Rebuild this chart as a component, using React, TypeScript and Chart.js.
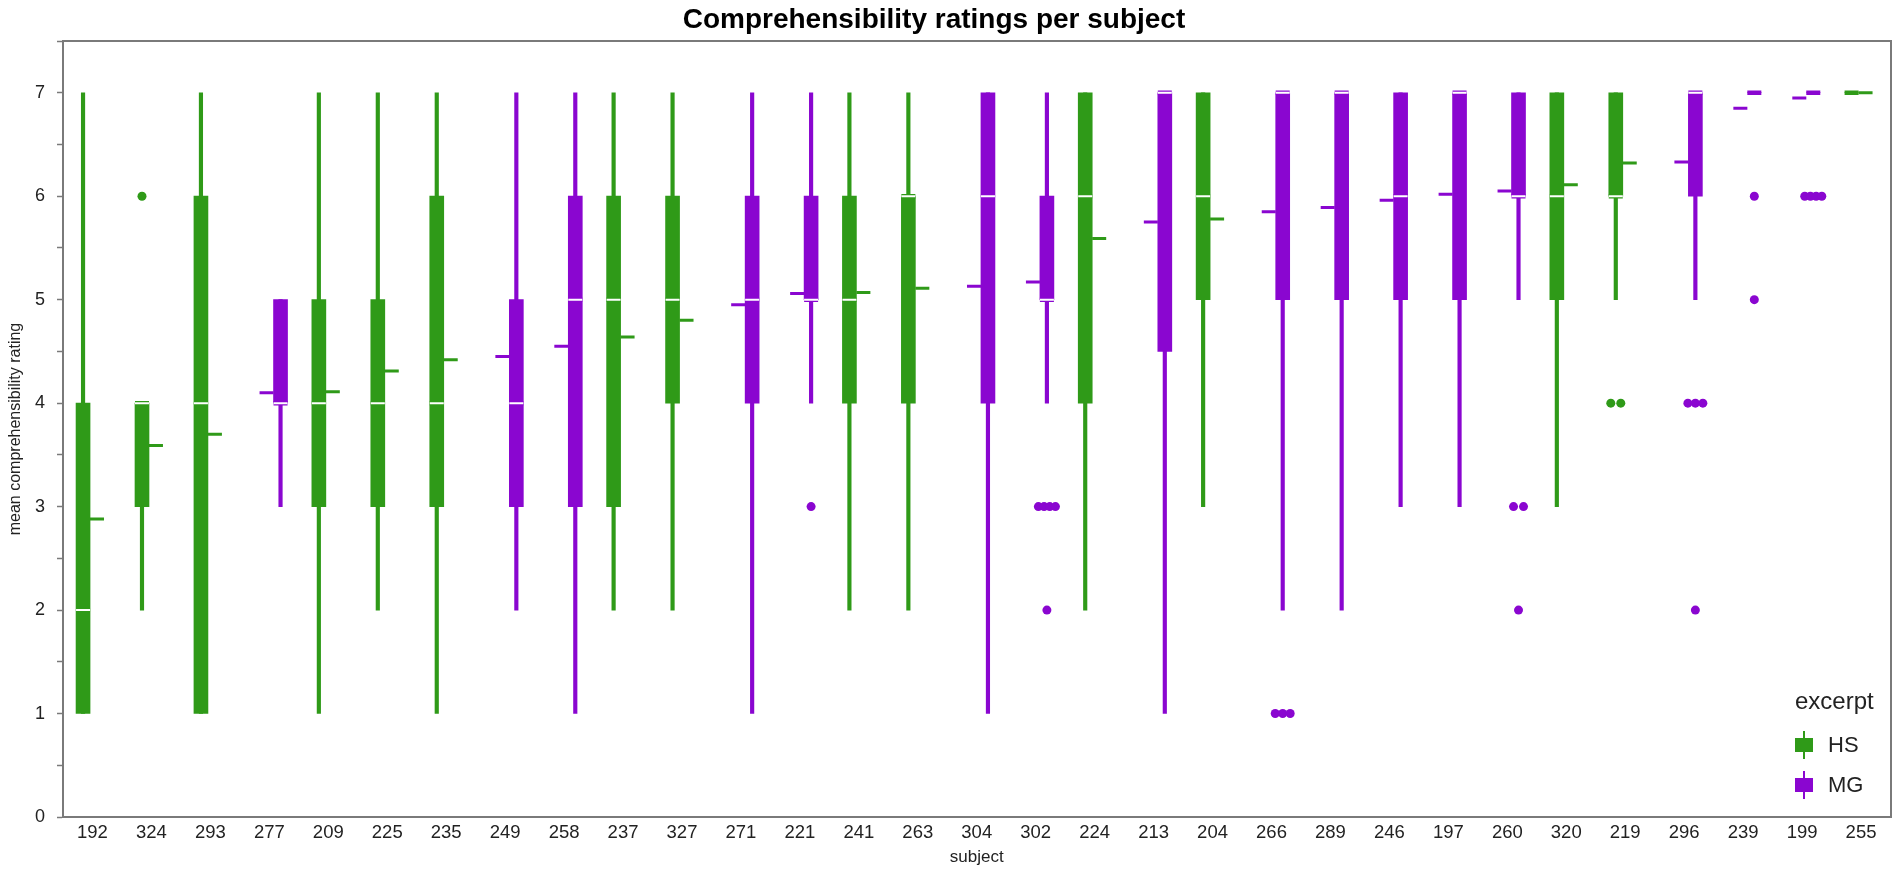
import { useEffect, useRef } from "react";
import { Chart, registerables } from "chart.js";

Chart.register(...registerables);

// box-plot summaries, one entry per subject
const subjects = [
  "192", "324", "293", "277", "209", "225", "235", "249", "258", "237", "327",
  "271", "221", "241", "263", "304", "302", "224", "213", "204", "266", "289",
  "246", "197", "260", "320", "219", "296", "239", "199", "255",
];
const excerpt = [
  "HS", "HS", "HS", "MG", "HS", "HS", "HS", "MG", "MG", "HS", "HS",
  "MG", "MG", "HS", "HS", "MG", "MG", "HS", "MG", "HS", "MG", "MG",
  "MG", "MG", "MG", "HS", "HS", "MG", "MG", "MG", "HS",
];
const whiskerLow = [1, 2, 1, 3, 1, 2, 1, 2, 1, 2, 2, 1, 4, 2, 2, 1, 4, 2, 1, 3, 2, 2, 3, 3, 5, 3, 5, 5, 7, 7, 7];
const q1 = [1, 3, 1, 4, 3, 3, 3, 3, 3, 3, 4, 4, 5, 4, 4, 4, 5, 4, 4.5, 5, 5, 5, 5, 5, 6, 5, 6, 6, 7, 7, 7];
const median = [2, 4, 4, 4, 4, 4, 4, 4, 5, 5, 5, 5, 5, 5, 6, 6, 5, 6, 7, 6, 7, 7, 6, 7, 6, 6, 6, 7, 7, 7, 7];
const q3 = [4, 4, 6, 5, 5, 5, 6, 5, 6, 6, 6, 6, 6, 6, 6, 7, 6, 7, 7, 7, 7, 7, 7, 7, 7, 7, 7, 7, 7, 7, 7];
const whiskerHigh = [7, 4, 7, 5, 7, 7, 7, 7, 7, 7, 7, 7, 7, 7, 7, 7, 7, 7, 7, 7, 7, 7, 7, 7, 7, 7, 7, 7, 7, 7, 7];
const means = [
  2.88, 3.59, 3.7, 4.1, 4.11, 4.31, 4.42, 4.45, 4.55, 4.64, 4.8,
  4.95, 5.06, 5.07, 5.11, 5.13, 5.17, 5.59, 5.75, 5.78, 5.85, 5.89,
  5.96, 6.02, 6.05, 6.11, 6.32, 6.33, 6.85, 6.95, 7.0,
];
const outliers: number[][] = [
  [], [6], [], [], [], [], [], [], [], [], [],
  [], [3], [], [], [], [3, 3, 3, 3, 2], [], [], [], [1, 1, 1], [],
  [], [], [3, 3, 2], [], [4, 4], [4, 4, 4, 2], [6, 5], [6, 6, 6, 6], [],
];
const yTicks = [0, 1, 2, 3, 4, 5, 6, 7];

const COLORS: Record<string, string> = { HS: "#2f9a18", MG: "#8a06d0" };
const FONT = '"Liberation Sans", Arial, Helvetica, sans-serif';
const TEXT = "#222";
const AXIS = "#7a7a7a";

// layout in px (page is 1902 x 871)
const PLOT_LEFT = 63;
const PLOT_RIGHT = 1895;
const PLOT_TOP = 41;
const PX = 1 / ((PLOT_RIGHT - PLOT_LEFT) / subjects.length); // one pixel in x units
const DODGE: Record<string, number> = { HS: -0.16, MG: 0.19 };
const BOX_W = 14;

const centerX = (i: number) => i + DODGE[excerpt[i]];
const colorAt = (i: number) => COLORS[excerpt[i]];

function spreadFor(n: number) {
  if (n <= 1) return 0;
  if (n === 2) return 10;
  if (n === 3) return 7.5;
  return 5.7;
}

function outlierPoints() {
  const pts: { x: number; y: number; c: string }[] = [];
  outliers.forEach((list, i) => {
    const counts: Record<string, number> = {};
    list.forEach((v) => (counts[v] = (counts[v] || 0) + 1));
    const seen: Record<string, number> = {};
    list.forEach((v) => {
      const n = counts[v];
      const k = seen[v] || 0;
      seen[v] = k + 1;
      const off = (k - (n - 1) / 2) * spreadFor(n) * PX;
      pts.push({ x: centerX(i) + off, y: v, c: colorAt(i) });
    });
  });
  return pts;
}

function BoxChart() {
  const canvasRef = useRef<HTMLCanvasElement>(null);
  const chartRef = useRef<Chart | null>(null);

  useEffect(() => {
    if (!canvasRef.current) return;
    const idx = subjects.map((_, i) => i);
    const colors = idx.map(colorAt);
    const outs = outlierPoints();

    chartRef.current?.destroy();
    chartRef.current = new Chart(canvasRef.current, {
      type: "bar",
      data: {
        datasets: [
          {
            type: "bar",
            label: "whisker",
            data: idx.map((i) => ({ x: centerX(i), y: [whiskerLow[i], whiskerHigh[i]] })) as any,
            backgroundColor: colors,
            barThickness: 3.5,
            grouped: false,
            borderWidth: 0,
            order: 6,
          },
          {
            type: "bar",
            label: "box",
            data: idx.map((i) => ({ x: centerX(i), y: [q1[i], q3[i]] })) as any,
            backgroundColor: colors,
            barThickness: BOX_W,
            grouped: false,
            borderWidth: 0,
            order: 5,
          },
          {
            type: "scatter",
            label: "median edge",
            data: idx.map((i) => ({ x: centerX(i), y: median[i] })),
            pointStyle: "line",
            pointRadius: BOX_W / 2,
            pointBorderWidth: 4.5,
            pointBorderColor: colors,
            order: 4,
          },
          {
            type: "scatter",
            label: "median",
            data: idx.map((i) => ({ x: centerX(i), y: median[i] })),
            pointStyle: "line",
            pointRadius: idx.map((i) => (q1[i] === q3[i] ? 0 : BOX_W / 2)),
            pointBorderWidth: 2,
            pointBorderColor: "#ffffff",
            order: 3,
          },
          {
            type: "scatter",
            label: "mean",
            data: idx.map((i) => ({
              x: centerX(i) + (excerpt[i] === "HS" ? 1 : -1) * BOX_W * PX,
              y: means[i],
            })),
            pointStyle: "line",
            pointRadius: 7,
            pointBorderWidth: 3,
            pointBorderColor: colors,
            order: 2,
          },
          {
            type: "scatter",
            label: "outliers",
            data: outs.map((p) => ({ x: p.x, y: p.y })),
            pointStyle: "circle",
            pointRadius: 4.5,
            pointBorderWidth: 0,
            pointBackgroundColor: outs.map((p) => p.c),
            pointBorderColor: outs.map((p) => p.c),
            order: 1,
          },
        ],
      },
      options: {
        responsive: true,
        maintainAspectRatio: false,
        animation: false,
        layout: { padding: { left: 0, right: 1902 - PLOT_RIGHT, top: PLOT_TOP, bottom: 0 } },
        plugins: {
          legend: { display: false },
          tooltip: { enabled: false },
          title: { display: false },
        },
        scales: {
          x: {
            type: "linear",
            position: "bottom",
            min: -0.5,
            max: subjects.length - 0.5,
            offset: false,
            afterBuildTicks: (axis: any) => {
              axis.ticks = subjects.map((_, i) => ({ value: i }));
            },
            afterFit: (axis: any) => {
              axis.height = 54;
            },
            ticks: {
              autoSkip: false,
              maxRotation: 0,
              padding: 5,
              color: TEXT,
              font: { family: FONT, size: 18.5 },
              callback: (v: any) => subjects[Math.round(Number(v))] ?? "",
            },
            grid: { display: false, drawTicks: false, offset: false },
            border: { display: true, color: AXIS, width: 2 },
            title: {
              display: true,
              text: "subject",
              color: TEXT,
              font: { family: FONT, size: 17 },
              padding: { top: 0, bottom: 3 },
            },
          },
          xTop: {
            type: "linear",
            position: "top",
            afterFit: (axis: any) => {
              axis.height = 0;
            },
            ticks: { display: false },
            grid: { display: false, drawTicks: false },
            border: { display: true, color: AXIS, width: 2 },
          },
          y: {
            type: "linear",
            position: "left",
            min: 0,
            max: 7.5,
            afterBuildTicks: (axis: any) => {
              const t: { value: number }[] = [];
              for (let v = 0; v <= 7.5; v += 0.5) t.push({ value: v });
              axis.ticks = t;
            },
            afterFit: (axis: any) => {
              axis.width = PLOT_LEFT;
            },
            ticks: {
              padding: 12,
              color: TEXT,
              font: { family: FONT, size: 18 },
              callback: (v: any) => (yTicks.includes(Number(v)) ? String(v) : ""),
            },
            grid: {
              drawOnChartArea: false,
              drawTicks: true,
              tickLength: 6,
              tickColor: AXIS,
              tickWidth: 1.5,
            },
            border: { display: true, color: AXIS, width: 2 },
            title: {
              display: true,
              text: "mean comprehensibility rating",
              color: TEXT,
              font: { family: FONT, size: 16 },
              padding: { top: 6, bottom: 0 },
            },
          },
          yRight: {
            type: "linear",
            position: "right",
            afterFit: (axis: any) => {
              axis.width = 0;
            },
            ticks: { display: false },
            grid: { display: false, drawTicks: false },
            border: { display: true, color: AXIS, width: 2 },
          },
        },
      } as any,
    });

    return () => {
      chartRef.current?.destroy();
      chartRef.current = null;
    };
  }, []);

  return <canvas ref={canvasRef} />;
}

function LegendGlyph({ color }: { color: string }) {
  return (
    <div style={{ position: "relative", width: 18, height: 28, marginRight: 15 }}>
      <div style={{ position: "absolute", left: 8, top: 0, width: 2, height: 28, background: color }} />
      <div style={{ position: "absolute", left: 0, top: 7, width: 18, height: 14, background: color }} />
    </div>
  );
}

export default function App() {
  return (
    <div style={{ position: "fixed", left: 0, top: 0, width: 1902, height: 871, background: "#fff" }}>
      <BoxChart />
      <div
        style={{
          position: "absolute",
          left: 934 - 400,
          top: 3,
          width: 800,
          textAlign: "center",
          fontFamily: FONT,
          fontSize: 28,
          fontWeight: "bold",
          lineHeight: "32px",
          color: "#000",
        }}
      >
        Comprehensibility ratings per subject
      </div>
      <div
        style={{
          position: "absolute",
          left: 1795,
          top: 686,
          fontFamily: FONT,
          fontSize: 22,
          color: TEXT,
          lineHeight: "30px",
        }}
      >
        <div style={{ fontSize: 24, marginBottom: 9 }}>excerpt</div>
        {["HS", "MG"].map((k) => (
          <div key={k} style={{ display: "flex", alignItems: "center", height: 40 }}>
            <LegendGlyph color={COLORS[k]} />
            <span>{k}</span>
          </div>
        ))}
      </div>
    </div>
  );
}
